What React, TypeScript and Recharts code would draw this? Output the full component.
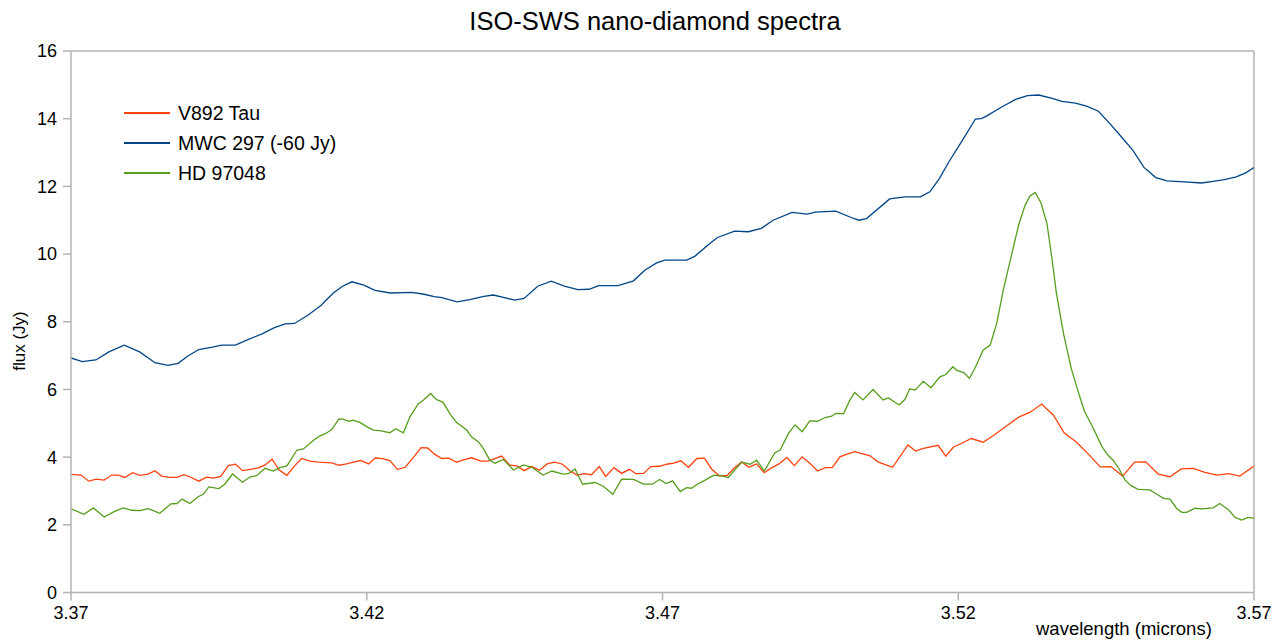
import { Legend, Line, LineChart, ReferenceLine, XAxis, YAxis } from 'recharts';

const FONT = '"Liberation Sans", Arial, sans-serif';
const AXIS_GREY = '#b3b3b3';

/* ─────────────── data ─────────────── */

const xTicks = [3.37, 3.42, 3.47, 3.52, 3.57];
const yTicks = [0, 2, 4, 6, 8, 10, 12, 14, 16];

const v892Wave = [
  3.37, 3.3717, 3.373, 3.3743, 3.3756, 3.3769, 3.378, 3.3791, 3.3804, 3.3817, 3.383, 3.3842,
  3.3853, 3.3867, 3.3879, 3.3891, 3.3904, 3.3916, 3.3929, 3.3941, 3.3953, 3.3966, 3.3978, 3.399,
  3.4003, 3.4017, 3.4028, 3.404, 3.4052, 3.4065, 3.4078, 3.409, 3.4104, 3.4118, 3.4141, 3.4153,
  3.4166, 3.4177, 3.419, 3.4203, 3.4215, 3.4228, 3.4239, 3.4252, 3.4265, 3.4279, 3.4292, 3.4303,
  3.4315, 3.4327, 3.4339, 3.4352, 3.4362, 3.4377, 3.4393, 3.4405, 3.4428, 3.4442, 3.4454, 3.4466,
  3.4479, 3.4492, 3.4505, 3.4518, 3.4531, 3.4544, 3.4556, 3.4567, 3.458, 3.4593, 3.4604, 3.4618,
  3.4631, 3.4644, 3.4655, 3.4668, 3.468, 3.4695, 3.4707, 3.4719, 3.4731, 3.4744, 3.4758, 3.4771,
  3.4783, 3.4796, 3.4809, 3.4821, 3.4834, 3.4846, 3.4859, 3.4872, 3.4885, 3.4897, 3.491, 3.4923,
  3.4936, 3.4949, 3.4962, 3.4975, 3.4987, 3.5, 3.5012, 3.5025, 3.5051, 3.5064, 3.5089, 3.5115,
  3.5128, 3.5141, 3.5166, 3.5179, 3.5192, 3.5206, 3.5222, 3.5242, 3.5262, 3.5282, 3.5302, 3.5321,
  3.5341, 3.5361, 3.5379, 3.54, 3.542, 3.544, 3.5458, 3.5478, 3.5498, 3.5517, 3.5538, 3.5558,
  3.5577, 3.5597, 3.5617, 3.5637, 3.5657, 3.5676, 3.57,
];
const v892Flux = [
  3.49, 3.47, 3.29, 3.35, 3.32, 3.47, 3.47, 3.4, 3.54, 3.46, 3.5, 3.6,
  3.44, 3.4, 3.4, 3.48, 3.39, 3.29, 3.41, 3.38, 3.43, 3.75, 3.79, 3.6,
  3.64, 3.68, 3.77, 3.94, 3.62, 3.46, 3.74, 3.96, 3.88, 3.85, 3.83, 3.76,
  3.8, 3.85, 3.9, 3.8, 3.98, 3.95, 3.9, 3.64, 3.7, 3.99, 4.28, 4.27,
  4.08, 3.96, 3.97, 3.85, 3.91, 3.98, 3.88, 3.88, 4.03, 3.76, 3.74, 3.6,
  3.72, 3.61, 3.8, 3.85, 3.79, 3.59, 3.46, 3.51, 3.48, 3.72, 3.43, 3.69,
  3.52, 3.64, 3.51, 3.52, 3.72, 3.73, 3.79, 3.82, 3.89, 3.7, 3.96, 3.97,
  3.65, 3.45, 3.45, 3.67, 3.86, 3.7, 3.8, 3.54, 3.69, 3.8, 3.99, 3.75,
  4.01, 3.82, 3.59, 3.69, 3.69, 4.01, 4.09, 4.16, 4.04, 3.86, 3.7, 4.36,
  4.18, 4.26, 4.35, 4.03, 4.3, 4.41, 4.55, 4.44, 4.67, 4.93, 5.18, 5.32,
  5.57, 5.24, 4.72, 4.44, 4.09, 3.71, 3.72, 3.44, 3.85, 3.86, 3.5, 3.42,
  3.65, 3.67, 3.55, 3.47, 3.51, 3.44, 3.74,
];

const mwcWave = [
  3.37, 3.3719, 3.3742, 3.3764, 3.379, 3.3816, 3.3842, 3.3864, 3.3881, 3.3897, 3.3916, 3.3939,
  3.3955, 3.3978, 3.4, 3.4023, 3.4043, 3.4062, 3.4078, 3.4101, 3.4123, 3.4143, 3.4159, 3.4175,
  3.4195, 3.4214, 3.424, 3.4275, 3.4295, 3.4314, 3.4327, 3.4353, 3.4376, 3.4398, 3.4414, 3.4431,
  3.445, 3.4466, 3.4489, 3.4512, 3.4534, 3.4557, 3.4576, 3.4592, 3.4625, 3.4651, 3.467, 3.469,
  3.4704, 3.4741, 3.4755, 3.478, 3.4793, 3.4822, 3.4845, 3.4867, 3.4887, 3.4919, 3.4945, 3.4958,
  3.4993, 3.5019, 3.5032, 3.5045, 3.5084, 3.511, 3.5136, 3.5152, 3.5168, 3.5184, 3.5207, 3.5229,
  3.5239, 3.5249, 3.5272, 3.5297, 3.5317, 3.5336, 3.5359, 3.5375, 3.5398, 3.5417, 3.5437, 3.5456,
  3.5476, 3.5495, 3.5514, 3.5534, 3.5553, 3.5582, 3.5611, 3.5631, 3.565, 3.567, 3.5686, 3.57,
];
const mwcFlux = [
  6.93, 6.82, 6.87, 7.11, 7.31, 7.11, 6.79, 6.71, 6.77, 6.98, 7.18, 7.25,
  7.31, 7.31, 7.48, 7.64, 7.82, 7.94, 7.95, 8.2, 8.49, 8.84, 9.05, 9.18,
  9.08, 8.93, 8.85, 8.87, 8.82, 8.74, 8.71, 8.59, 8.66, 8.75, 8.79, 8.72,
  8.64, 8.69, 9.05, 9.2, 9.05, 8.95, 8.96, 9.07, 9.07, 9.21, 9.52, 9.74,
  9.82, 9.82, 9.94, 10.31, 10.49, 10.68, 10.66, 10.76, 11.0, 11.23, 11.18, 11.24,
  11.27, 11.08, 11.0, 11.05, 11.63, 11.69, 11.69, 11.84, 12.23, 12.72, 13.36, 13.99,
  14.0, 14.09, 14.33, 14.57, 14.68, 14.7, 14.6, 14.51, 14.46, 14.37, 14.22, 13.86,
  13.46, 13.07, 12.56, 12.26, 12.16, 12.13, 12.1, 12.15, 12.2, 12.28, 12.4, 12.56,
];

const hdWave = [
  3.37, 3.3722, 3.3738, 3.3756, 3.3773, 3.3788, 3.3803, 3.3817, 3.383, 3.3839, 3.385, 3.3869,
  3.3879, 3.3888, 3.3901, 3.3915, 3.3924, 3.3933, 3.395, 3.396, 3.3973, 3.399, 3.4003, 3.4014,
  3.4028, 3.4042, 3.4053, 3.4065, 3.4082, 3.4093, 3.411, 3.4121, 3.4131, 3.4141, 3.4153, 3.416,
  3.417, 3.4177, 3.4189, 3.42, 3.4211, 3.4222, 3.4239, 3.4249, 3.4262, 3.4273, 3.4287, 3.4296,
  3.4308, 3.4317, 3.4329, 3.4341, 3.4352, 3.4369, 3.4377, 3.4389, 3.4397, 3.4408, 3.4417, 3.4431,
  3.4448, 3.4465, 3.4479, 3.4498, 3.4513, 3.4532, 3.4542, 3.4552, 3.4565, 3.4586, 3.46, 3.4616,
  3.4631, 3.4651, 3.4668, 3.4683, 3.4695, 3.4706, 3.4717, 3.473, 3.4741, 3.4749, 3.4759, 3.4772,
  3.4787, 3.4803, 3.4811, 3.4823, 3.4834, 3.4848, 3.4859, 3.4872, 3.489, 3.4899, 3.4913, 3.4924,
  3.4936, 3.4949, 3.4962, 3.4975, 3.4986, 3.4993, 3.5006, 3.5017, 3.5025, 3.5039, 3.5056, 3.5073,
  3.5082, 3.51, 3.511, 3.5118, 3.5127, 3.5141, 3.5154, 3.5169, 3.5179, 3.5191, 3.5197, 3.5209,
  3.5219, 3.5228, 3.5242, 3.5254, 3.5265, 3.5276, 3.529, 3.5302, 3.5313, 3.5321, 3.533, 3.534,
  3.535, 3.5358, 3.5366, 3.5378, 3.5391, 3.5402, 3.5413, 3.5427, 3.5443, 3.5454, 3.5462, 3.5473,
  3.5482, 3.5493, 3.5504, 3.5524, 3.5535, 3.5547, 3.5558, 3.5569, 3.5578, 3.5586, 3.56, 3.5612,
  3.5631, 3.5642, 3.5657, 3.5668, 3.5679, 3.569, 3.57,
];
const hdFlux = [
  2.47, 2.31, 2.5, 2.23, 2.39, 2.5, 2.43, 2.42, 2.48, 2.42, 2.34, 2.62,
  2.63, 2.76, 2.63, 2.83, 2.91, 3.12, 3.07, 3.2, 3.5, 3.26, 3.42, 3.45,
  3.67, 3.59, 3.69, 3.74, 4.21, 4.24, 4.5, 4.63, 4.7, 4.82, 5.13, 5.12,
  5.06, 5.09, 5.02, 4.9, 4.8, 4.78, 4.72, 4.84, 4.72, 5.19, 5.57, 5.69,
  5.88, 5.71, 5.62, 5.27, 5.02, 4.8, 4.6, 4.45, 4.26, 3.91, 3.82, 3.93,
  3.62, 3.77, 3.7, 3.47, 3.59, 3.5, 3.52, 3.65, 3.2, 3.25, 3.14, 2.9,
  3.35, 3.34, 3.2, 3.2, 3.34, 3.22, 3.3, 2.98, 3.1, 3.08, 3.2, 3.32,
  3.47, 3.44, 3.39, 3.64, 3.85, 3.79, 3.91, 3.59, 4.13, 4.21, 4.7, 4.95,
  4.75, 5.07, 5.06, 5.17, 5.21, 5.29, 5.28, 5.69, 5.91, 5.69, 6.0, 5.69,
  5.75, 5.54, 5.71, 6.02, 5.98, 6.24, 6.05, 6.37, 6.44, 6.67, 6.57, 6.5,
  6.33, 6.62, 7.16, 7.31, 7.95, 8.93, 9.97, 10.85, 11.44, 11.71, 11.82, 11.51,
  10.9, 9.92, 8.84, 7.65, 6.62, 5.98, 5.37, 4.9, 4.31, 4.04, 3.91, 3.62,
  3.32, 3.15, 3.05, 3.03, 2.91, 2.78, 2.76, 2.49, 2.37, 2.37, 2.49, 2.47,
  2.5, 2.63, 2.44, 2.22, 2.14, 2.22, 2.19,
];

const toPoints = (wave: number[], flux: number[]) => wave.map((w, i) => ({ w, f: flux[i] }));

const series = [
  { name: 'V892 Tau', color: '#ff420e', data: toPoints(v892Wave, v892Flux) },
  { name: 'MWC 297 (-60 Jy)', color: '#004586', data: toPoints(mwcWave, mwcFlux) },
  { name: 'HD 97048', color: '#579d1c', data: toPoints(hdWave, hdFlux) },
];

/* ─────────────── chart ─────────────── */

function SpectraLegend() {
  return (
    <div style={{ fontFamily: FONT, fontSize: 19.5, color: '#000' }}>
      {series.map((s) => (
        <div key={s.name} style={{ display: 'flex', alignItems: 'center', height: 30 }}>
          <span
            style={{
              display: 'inline-block',
              width: 46,
              height: 1.5,
              backgroundColor: s.color,
              marginRight: 8,
            }}
          />
          <span>{s.name}</span>
        </div>
      ))}
    </div>
  );
}

export default function App() {
  return (
    <div style={{ position: 'relative', width: 1278, height: 633, fontFamily: FONT }}>
      <div
        style={{
          position: 'absolute',
          top: 0,
          left: 12,
          width: 1270,
          textAlign: 'center',
          fontSize: 25.5,
          lineHeight: '26px',
          color: '#000',
          zIndex: 2,
        }}
      >
        ISO-SWS nano-diamond spectra
      </div>
      <LineChart width={1278} height={633} margin={{ top: 43, right: 32, bottom: 18.5, left: 0 }}>
        <XAxis
          type="number"
          dataKey="w"
          domain={[3.37, 3.57]}
          ticks={xTicks}
          allowDataOverflow
          height={30}
          tickSize={8}
          tickMargin={6}
          tickFormatter={(v: number) => v.toFixed(2)}
          tick={{ fill: '#000', fontSize: 18, fontFamily: FONT }}
          stroke={AXIS_GREY}
          strokeWidth={1.5}
          label={{
            content: () => (
              <text x={1028} y={627} fontSize={18.5} fontFamily={FONT} fill="#000">
                wavelength (microns)
              </text>
            ),
          }}
        />
        <YAxis
          type="number"
          domain={[0, 16]}
          ticks={yTicks}
          width={63}
          tickSize={8}
          tickMargin={6}
          tick={{ fill: '#000', fontSize: 18, fontFamily: FONT }}
          stroke={AXIS_GREY}
          strokeWidth={1.5}
          label={{
            content: () => (
              <text
                x={11}
                y={333}
                transform="rotate(-90, 11, 333)"
                textAnchor="middle"
                dominantBaseline="central"
                fontSize={17}
                fontFamily={FONT}
                fill="#000"
              >
                flux (Jy)
              </text>
            ),
          }}
        />
        <ReferenceLine y={16} stroke={AXIS_GREY} strokeWidth={1.5} />
        <ReferenceLine x={3.57} stroke={AXIS_GREY} strokeWidth={1.5} />
        <Legend
          layout="vertical"
          align="center"
          verticalAlign="middle"
          content={<SpectraLegend />}
          wrapperStyle={{ left: 116, top: 90, width: 320 }}
        />
        {series.map((s) => (
          <Line
            key={s.name}
            data={s.data}
            dataKey="f"
            name={s.name}
            type="linear"
            stroke={s.color}
            strokeWidth={1.3}
            dot={false}
            activeDot={false}
            isAnimationActive={false}
          />
        ))}
      </LineChart>
    </div>
  );
}
